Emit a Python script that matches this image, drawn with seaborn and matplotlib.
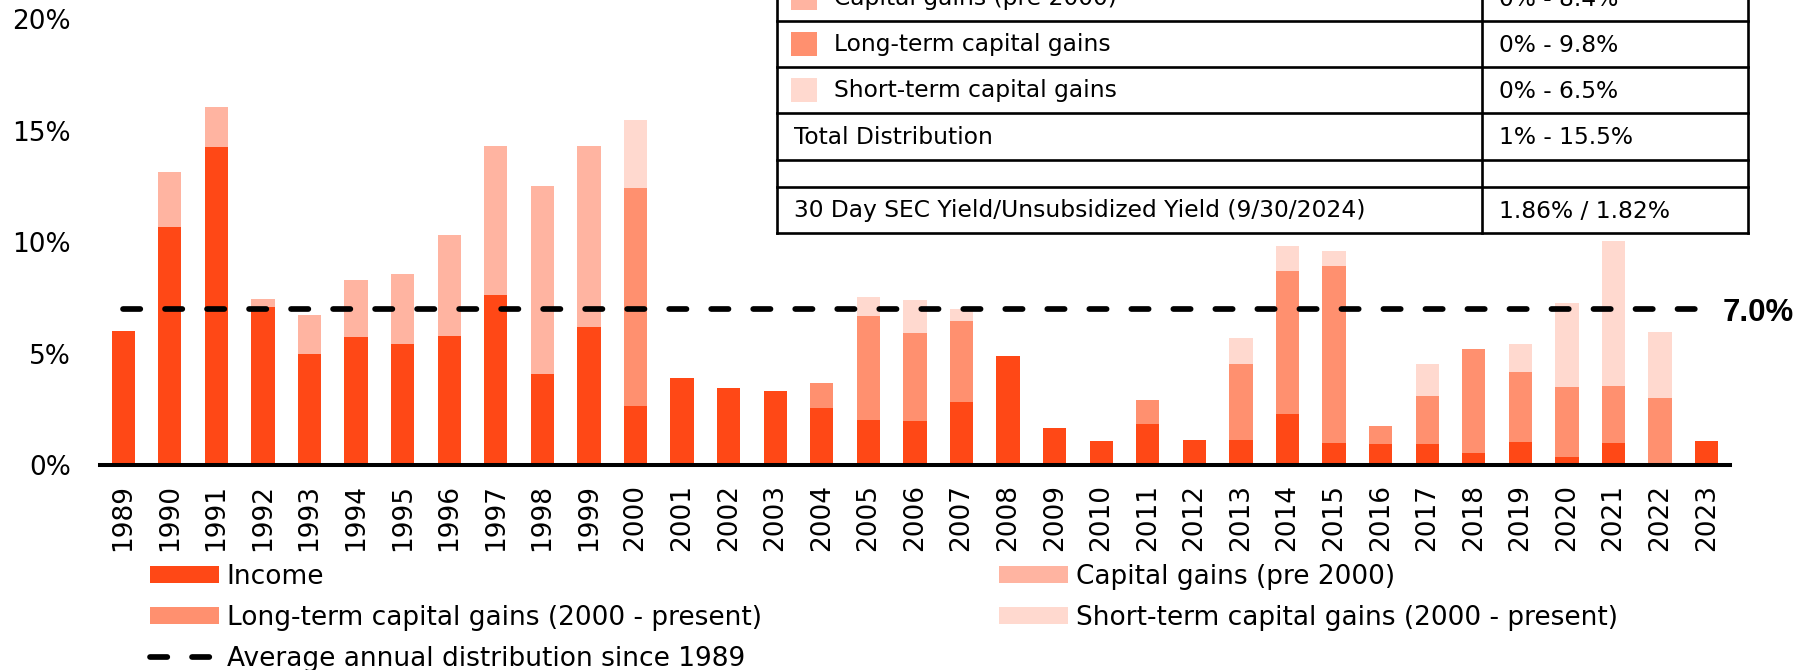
import matplotlib
matplotlib.use("Agg")
import numpy as np
import pandas as pd
import seaborn as sns
import matplotlib.pyplot as plt
from matplotlib.patches import Patch, Rectangle
from matplotlib.lines import Line2D

# ---------------- data ----------------
years = ["1989", "1990", "1991", "1992", "1993", "1994", "1995", "1996", "1997", "1998",
         "1999", "2000", "2001", "2002", "2003", "2004", "2005", "2006", "2007", "2008",
         "2009", "2010", "2011", "2012", "2013", "2014", "2015", "2016", "2017", "2018",
         "2019", "2020", "2021", "2022", "2023"]
income = [6.0, 10.7, 14.25, 7.1, 4.96, 5.76, 5.43, 5.8, 7.62, 4.1,
          6.18, 2.63, 3.9, 3.47, 3.34, 2.57, 2.03, 1.98, 2.83, 4.87,
          1.68, 1.08, 1.86, 1.11, 1.14, 2.3, 1.0, 0.92, 0.92, 0.56,
          1.05, 0.38, 0.98, 0.0, 1.06]
cap_gains_pre2000 = [0.0, 2.45, 1.8, 0.33, 1.78, 2.53, 3.13, 4.5, 6.7, 8.4,
                     8.14, 0.0, 0.0, 0.0, 0.0, 0.0, 0.0, 0.0, 0.0, 0.0,
                     0.0, 0.0, 0.0, 0.0, 0.0, 0.0, 0.0, 0.0, 0.0, 0.0,
                     0.0, 0.0, 0.0, 0.0, 0.0]
lt_gains = [0.0, 0.0, 0.0, 0.0, 0.0, 0.0, 0.0, 0.0, 0.0, 0.0,
            0.0, 9.8, 0.0, 0.0, 0.0, 1.13, 4.66, 3.94, 3.62, 0.0,
            0.0, 0.0, 1.07, 0.0, 3.37, 6.42, 7.93, 0.84, 2.16, 4.63,
            3.12, 3.11, 2.56, 3.0, 0.0]
st_gains = [0.0, 0.0, 0.0, 0.0, 0.0, 0.0, 0.0, 0.0, 0.0, 0.0,
            0.0, 3.05, 0.0, 0.0, 0.0, 0.0, 0.84, 1.5, 0.54, 0.0,
            0.0, 0.0, 0.0, 0.0, 1.2, 1.11, 0.67, 0.0, 1.46, 0.0,
            1.24, 3.76, 6.5, 2.95, 0.0]
avg_distribution = 7.0
avg_label = "7.0%"
yticks = [0, 5, 10, 15, 20]
ytick_labels = ["0%", "5%", "10%", "15%", "20%"]

legend_left_labels = ["Income", "Long-term capital gains (2000 - present)",
                      "Average annual distribution since 1989"]
legend_right_labels = ["Capital gains (pre 2000)", "Short-term capital gains (2000 - present)"]

table_labels = ["Capital gains (pre 2000)", "Long-term capital gains", "Short-term capital gains",
                "Total Distribution", "", "30 Day SEC Yield/Unsubsidized Yield (9/30/2024)"]
table_values = ["0% - 8.4%", "0% - 9.8%", "0% - 6.5%", "1% - 15.5%", "", "1.86% / 1.82%"]

# ---------------- style ----------------
C_INC = "#FF4816"
C_CAP = "#FFB4A1"
C_LT = "#FF906F"
C_ST = "#FFD9CF"

sns.set_theme(style="white")
plt.rcParams['font.family'] = ['DejaVu Sans']
plt.rcParams['lines.scale_dashes'] = False
plt.rcParams['text.color'] = 'black'

W, H = 1806, 670
fig = plt.figure(figsize=(W / 100, H / 100), dpi=100)
ax_left, ax_right, ax_base, ax_top = 100, 1730, 465, 19.3
ax = fig.add_axes([ax_left / W, (H - ax_base) / H, (ax_right - ax_left) / W, (ax_base - ax_top) / H])

df = pd.DataFrame({"year": years, "income": income, "cap": cap_gains_pre2000,
                   "lt": lt_gains, "st": st_gains})
df["lvl1"] = df["income"]
df["lvl2"] = df["lvl1"] + df["cap"]
df["lvl3"] = df["lvl2"] + df["lt"]
df["lvl4"] = df["lvl3"] + df["st"]

for col, color in [("lvl4", C_ST), ("lvl3", C_LT), ("lvl2", C_CAP), ("lvl1", C_INC)]:
    sns.barplot(data=df, x="year", y=col, order=years, color=color, saturation=1,
                width=0.5, errorbar=None, linewidth=0, ax=ax)

n = len(years)
ax.set_xlim(-0.5, n - 0.5)
ax.set_ylim(0, 20)
ax.set_xlabel("")
ax.set_ylabel("")
ax.set_yticks(yticks)
ax.set_yticklabels(ytick_labels)
for s in ["left", "right", "top"]:
    ax.spines[s].set_visible(False)
ax.spines["bottom"].set_color("black")
ax.spines["bottom"].set_linewidth(2.9)
ax.tick_params(axis="x", length=0, pad=14, labelsize=19, labelrotation=90, colors="black")
ax.tick_params(axis="y", length=0, pad=21, labelsize=19, colors="black")
ax.grid(False)

dash_kw = dict(color="black", lw=4.1, dashes=(12.45, 17.8), dash_capstyle="round")
ax.axhline(avg_distribution, xmin=0.5 / n, xmax=(n - 0.5) / n, zorder=4, **dash_kw)
ax.text((n - 0.15) / n, avg_distribution, avg_label, transform=ax.get_yaxis_transform(),
        ha="left", va="center_baseline", fontsize=22.5, fontweight="bold",
        family=["Liberation Sans", "DejaVu Sans"], color="black")

# ---------------- legends ----------------
leg_kw = dict(loc="upper left", frameon=False, borderpad=0, borderaxespad=0,
              handlelength=2.61, handleheight=0.61, handletextpad=0.3,
              labelspacing=0.56, fontsize=19, labelcolor="black")
h_left = [Patch(facecolor=C_INC, edgecolor="none"), Patch(facecolor=C_LT, edgecolor="none"),
          Line2D([0], [0], **dash_kw)]
h_right = [Patch(facecolor=C_CAP, edgecolor="none"), Patch(facecolor=C_ST, edgecolor="none")]
leg1 = fig.legend(h_left, legend_left_labels, bbox_to_anchor=(150 / W, 1 - 564 / H), **leg_kw)
leg2 = fig.legend(h_right, legend_right_labels, bbox_to_anchor=(999 / W, 1 - 564 / H), **leg_kw)

# ---------------- table (overlay in pixel coords) ----------------
ov = fig.add_axes([0, 0, 1, 1], zorder=5)
ov.set_xlim(0, W)
ov.set_ylim(H, 0)
ov.axis("off")
ov.patch.set_alpha(0)

t_left, t_div, t_right = 777, 1482, 1748
row_edges = [-25, 21, 67, 113, 160, 187, 233]
ov.add_patch(Rectangle((t_left, row_edges[0]), t_right - t_left, row_edges[-1] - row_edges[0],
                       facecolor="white", edgecolor="none", zorder=1))
tlw = 1.9
for y in row_edges:
    ov.plot([t_left, t_right], [y, y], color="black", lw=tlw, zorder=3, solid_capstyle="projecting")
for x in [t_left, t_div, t_right]:
    ov.plot([x, x], [row_edges[0], row_edges[-1]], color="black", lw=tlw, zorder=3,
            solid_capstyle="projecting")
swatches = [C_CAP, C_LT, C_ST]
for i, (lab, val) in enumerate(zip(table_labels, table_values)):
    yc = (row_edges[i] + row_edges[i + 1]) / 2
    if i < len(swatches):
        ov.add_patch(Rectangle((791, yc - 12), 26, 24, facecolor=swatches[i], edgecolor="none", zorder=2))
        tx = 834
    else:
        tx = 794
    ov.text(tx, yc + 1, lab, ha="left", va="center", fontsize=16.8, color="black", zorder=4)
    ov.text(1499, yc + 1, val, ha="left", va="center", fontsize=16.8, color="black", zorder=4)

fig.savefig("out.png", dpi=100)
